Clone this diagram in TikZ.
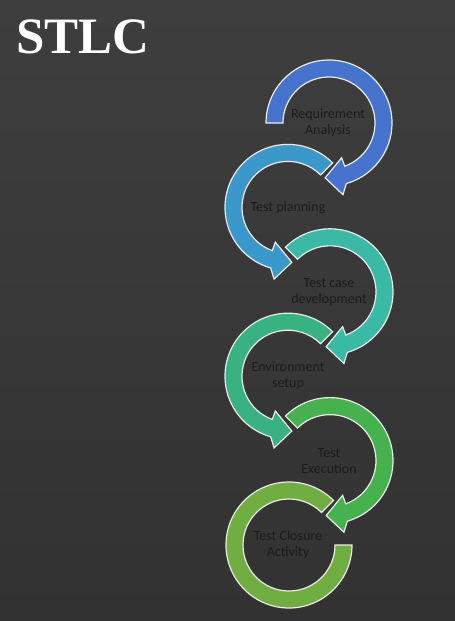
\documentclass[tikz,border=0pt]{standalone}
\usepackage{fontspec}
\setmainfont{Liberation Serif}
\newfontfamily\labelfont{Carlito}
\definecolor{bgtop}{RGB}{62,62,62}
\definecolor{bgbot}{RGB}{50,50,50}
\definecolor{cA}{RGB}{70,115,205}
\definecolor{cB}{RGB}{58,152,202}
\definecolor{cC}{RGB}{58,185,165}
\definecolor{cD}{RGB}{55,178,128}
\definecolor{cE}{RGB}{70,178,78}
\definecolor{cF}{RGB}{112,174,66}
\definecolor{txt}{RGB}{28,28,28}
\tikzset{
  arrowband/.style={draw={rgb,255:red,235;green,235;blue,235}, line width=1.2pt, line join=miter},
  steplabel/.style={align=center, text=txt, font=\labelfont\fontsize{14}{16}\selectfont, inner sep=0pt},
  titletext/.style={text=white, font=\bfseries\fontsize{51}{51}\selectfont, inner sep=0pt, anchor=base west}
}
% clockwise arc with arrowhead: #1 center, #2 start angle, #3 end angle, #4 colour
\newcommand{\cwarrow}[4]{%
  \filldraw[arrowband, fill=#4, shift={#1}]
    (#2:63) arc[start angle=#2, end angle={#3-4}, radius=63]
    -- ({#3-9}:73) -- ({#3-24}:55) -- (#3:37) -- (#3:46)
    arc[start angle=#3, end angle=#2, radius=46] -- cycle;}
% counterclockwise arc with arrowhead
\newcommand{\ccwarrow}[4]{%
  \filldraw[arrowband, fill=#4, shift={#1}]
    (#2:63) arc[start angle=#2, end angle={#3+4}, radius=63]
    -- ({#3+9}:73) -- ({#3+24}:55) -- (#3:37) -- (#3:46)
    arc[start angle=#3, end angle=#2, radius=46] -- cycle;}
\begin{document}
\begin{tikzpicture}[x=1pt,y=1pt]
\useasboundingbox (0,0) rectangle (455,-621);
\shade[top color=bgtop, bottom color=bgbot] (0,0) rectangle (455,-621);
\node[titletext] (title) at (16,-53) {STLC};
% arcs
\cwarrow{(329,-123)}{180}{-70}{cA}
\ccwarrow{(288,-207.4)}{45}{250}{cB}
\cwarrow{(330,-291.8)}{135}{-70}{cC}
\ccwarrow{(288,-376.2)}{45}{250}{cD}
\cwarrow{(330,-460.6)}{135}{-70}{cE}
\filldraw[arrowband, fill=cF, shift={(289,-545)}]
  (45:63) arc[start angle=45, end angle=360, radius=63]
  -- (360:46) arc[start angle=360, end angle=45, radius=46] -- cycle;
% labels
\node[steplabel] (s1) at (328,-123) {Requirement\\Analysis};
\node[steplabel] (s2) at (288,-207.4) {Test planning};
\node[steplabel] (s3) at (329,-291.8) {Test case\\development};
\node[steplabel] (s4) at (288,-376.2) {Environment\\setup};
\node[steplabel] (s5) at (329,-460.6) {Test\\Execution};
\node[steplabel] (s6) at (288,-545) {Test Closure\\Activity};
\end{tikzpicture}
\end{document}
